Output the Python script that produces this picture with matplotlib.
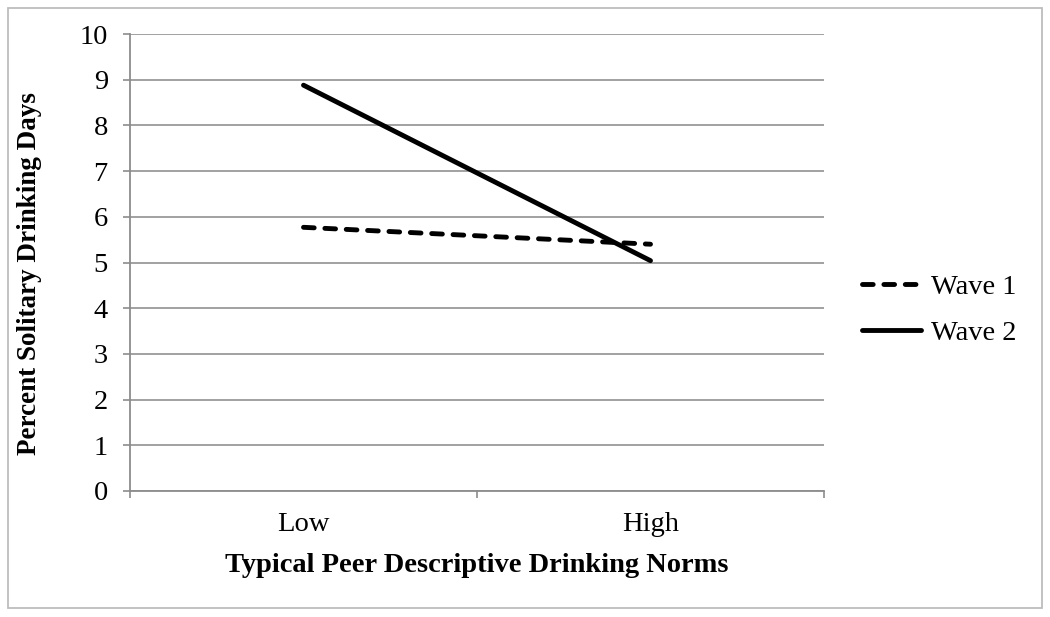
import matplotlib
matplotlib.use("Agg")
import matplotlib.pyplot as plt
from matplotlib.patches import Rectangle

categories = ["Low", "High"]
wave1 = [5.77, 5.40]
wave2 = [8.88, 5.04]
series_names = ["Wave 1", "Wave 2"]
yticks = list(range(0, 11))

plt.rcParams["font.family"] = ["Liberation Serif", "DejaVu Serif"]

W, H = 1050, 617
FS = 20.5
fig = plt.figure(figsize=(W / 100, H / 100), dpi=100)
ax = fig.add_axes([130 / W, 1 - 491 / H, (824 - 130) / W, (491 - 34) / H])

x = list(range(len(categories)))
lw = 3.5
ax.plot(x, wave1, color="black", lw=lw, dashes=(2.2, 2.2), dash_capstyle="round",
        solid_capstyle="round", label=series_names[0])
ax.plot(x, wave2, color="black", lw=lw, solid_capstyle="round", label=series_names[1])

ax.set_xlim(-0.5, len(categories) - 0.5)
ax.set_ylim(0, 10)
ax.set_yticks(yticks)
ax.set_xticks(x)
ax.set_xticklabels(categories)
ax.set_xticks([i - 0.5 for i in range(len(categories) + 1)], minor=True)
ax.tick_params(axis="x", which="major", length=0, pad=15, labelsize=FS)
ax.tick_params(axis="x", which="minor", length=5, width=1.2, color="#8c8c8c", direction="out")
ax.tick_params(axis="y", length=5, width=1.2, color="#8c8c8c", pad=11, labelsize=FS)

ax.yaxis.grid(True, color="#9a9a9a", lw=1.3)
ax.set_axisbelow(True)
for s in ["top", "right"]:
    ax.spines[s].set_visible(False)
for s in ["left", "bottom"]:
    ax.spines[s].set_color("#8c8c8c")
    ax.spines[s].set_linewidth(1.3)

fig.text(477 / W, 1 - 566 / H, "Typical Peer Descriptive Drinking Norms", ha="center", va="center",
         fontsize=FS, fontweight="bold")
fig.text(30 / W, 1 - 274 / H, "Percent Solitary Drinking Days", ha="center", va="center",
         rotation=90, fontsize=19.5, fontweight="bold")

leg = ax.legend(loc="center left", bbox_to_anchor=(836 / W, 1 - 310 / H),
                bbox_transform=fig.transFigure, frameon=False, fontsize=FS,
                handlelength=2.1, handletextpad=0.35, labelspacing=0.72)

fig.add_artist(Rectangle((8 / W, 1 - 608 / H), (1042 - 8) / W, (608 - 8) / H,
                         transform=fig.transFigure, fill=False, edgecolor="#bdbdbd", lw=1.3))

fig.savefig("out.png", dpi=100)
